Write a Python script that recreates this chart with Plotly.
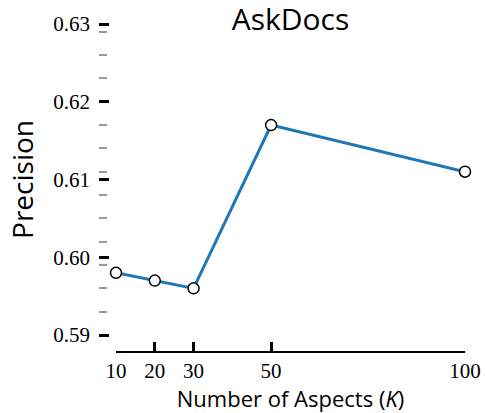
import plotly.graph_objects as go

aspects = [10, 20, 30, 50, 100]
precision = [0.598, 0.597, 0.596, 0.617, 0.611]
y_ticks = [0.59, 0.60, 0.61, 0.62, 0.63]
y_tick_text = ["0.59", "0.60", "0.61", "0.62", "0.63"]

W, H = 485, 413
ml, mr, mt, mb = 90, 15, 14, 61
pw = W - ml - mr
ph = H - mt - mb

# pixel positions of the y-range ends (0.59 -> 335 px, 0.63 -> 24 px)
k = (335 - 24) / 0.04
pad = 0.0005
y_lo, y_hi = 0.59 - pad, 0.63 + pad
top_px = 24 - pad * k
bot_px = 335 + pad * k

fig = go.Figure()
fig.add_trace(go.Scatter(
    x=aspects, y=precision, mode="lines+markers",
    line=dict(color="#1f77b4", width=3),
    marker=dict(size=11, color="white", line=dict(color="black", width=1.5)),
    cliponaxis=False, showlegend=False,
))

serif = "Liberation Serif"
sans = "Open Sans"

fig.update_layout(
    width=W, height=H,
    margin=dict(l=ml, r=mr, t=mt, b=mb, autoexpand=False),
    plot_bgcolor="white", paper_bgcolor="white",
    title=dict(text="AskDocs", x=(116 + 465) / 2 / W, xanchor="center",
               y=1 - 19 / H, yanchor="middle", yref="container",
               font=dict(family=sans, size=30, color="black")),
    xaxis=dict(
        domain=[(116 - ml) / pw, (465 - ml) / pw],
        range=[10, 100], automargin=False,
        anchor="free", position=(H - mb - 352) / ph,
        tickmode="array", tickvals=aspects, ticktext=[str(a) for a in aspects],
        ticks="inside", ticklen=9, tickwidth=2.5, tickcolor="black",
        showline=True, linecolor="black", linewidth=1.5,
        showgrid=False, zeroline=False,
        tickfont=dict(family=serif, size=21, color="black"),
        title=dict(text="Number of Aspects (<i>K</i>)", standoff=4,
                   font=dict(family=sans, size=22, color="black")),
    ),
    yaxis=dict(
        domain=[(H - mb - bot_px) / ph, (H - mb - top_px) / ph],
        range=[y_lo, y_hi], automargin=False,
        anchor="free", position=(98 - ml) / pw,
        tickmode="array", tickvals=y_ticks, ticktext=y_tick_text,
        ticks="inside", ticklen=10, tickwidth=3, tickcolor="black",
        ticklabelstandoff=8,
        minor=dict(tick0=0.59, dtick=0.003, ticks="inside", ticklen=8,
                   tickwidth=1.5, tickcolor="#999999", showgrid=False),
        showline=False, showgrid=False, zeroline=False,
        tickfont=dict(family=serif, size=21, color="black"),
        title=dict(text="Precision", standoff=10,
                   font=dict(family=sans, size=28, color="black")),
    ),
)

fig.write_html("out.html", config={"displayModeBar": False},
               post_script="document.body.style.margin='0';")
